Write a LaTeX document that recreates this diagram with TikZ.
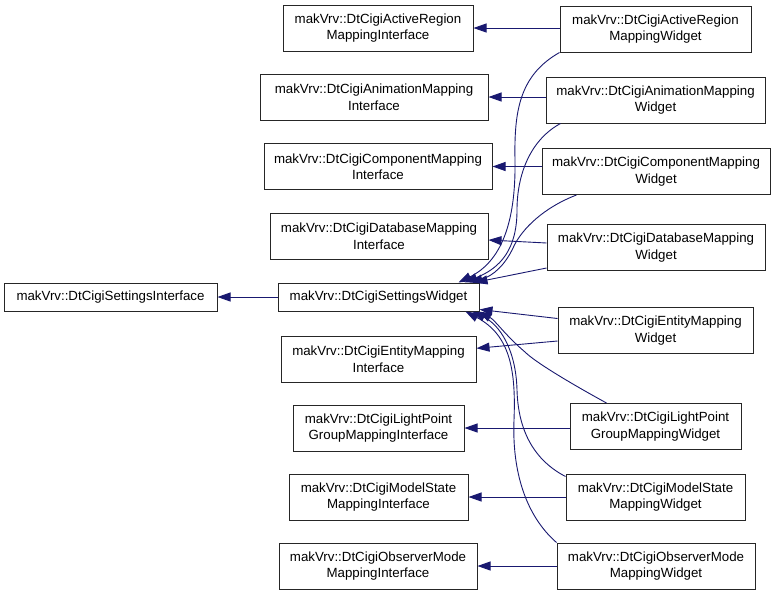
\documentclass[tikz,border=0pt]{standalone}
\usepackage{fontspec}
\setmainfont{Liberation Sans}
\usetikzlibrary{arrows.meta}
\definecolor{edgeblue}{HTML}{191970}
\tikzset{
  cls/.style={draw=black!85, line width=1pt, fill=white, align=center, inner sep=0pt,
    font=\fontsize{13.3}{16.5}\selectfont, text=black},
  edge/.style={draw=edgeblue, line width=0.9pt, -{Triangle[length=13pt,width=9pt]}},
}
\begin{document}
\begin{tikzpicture}[x=1pt,y=-1pt]
\fill[white] (0,0) rectangle (776,595);
\useasboundingbox (0,0) rectangle (776,595);
% left
\node[cls, minimum width=213pt, minimum height=28pt] (SI) at (110.5,297) {makVrv::DtCigiSettingsInterface};
\node[cls, minimum width=201pt, minimum height=28pt] (SW) at (378.5,297) {makVrv::DtCigiSettingsWidget};
% interfaces
\node[cls, minimum width=190pt, minimum height=46pt] (I1) at (378,28) {makVrv::DtCigiActiveRegion\\MappingInterface};
\node[cls, minimum width=228pt, minimum height=46pt] (I2) at (374,97) {makVrv::DtCigiAnimationMapping\\Interface};
\node[cls, minimum width=228pt, minimum height=46pt] (I3) at (378,166.5) {makVrv::DtCigiComponentMapping\\Interface};
\node[cls, minimum width=218pt, minimum height=46pt] (I4) at (379,236) {makVrv::DtCigiDatabaseMapping\\Interface};
\node[cls, minimum width=195pt, minimum height=46pt] (I5) at (378.5,359) {makVrv::DtCigiEntityMapping\\Interface};
\node[cls, minimum width=171pt, minimum height=46pt] (I6) at (378.5,428) {makVrv::DtCigiLightPoint\\GroupMappingInterface};
\node[cls, minimum width=179pt, minimum height=46pt] (I7) at (378.5,497) {makVrv::DtCigiModelState\\MappingInterface};
\node[cls, minimum width=198pt, minimum height=46pt] (I8) at (378,566) {makVrv::DtCigiObserverMode\\MappingInterface};
% widgets
\node[cls, minimum width=191pt, minimum height=46pt] (W1) at (655.5,29) {makVrv::DtCigiActiveRegion\\MappingWidget};
\node[cls, minimum width=219pt, minimum height=46pt] (W2) at (655.5,100) {makVrv::DtCigiAnimationMapping\\Widget};
\node[cls, minimum width=228pt, minimum height=46pt] (W3) at (656,171.5) {makVrv::DtCigiComponentMapping\\Widget};
\node[cls, minimum width=218pt, minimum height=46pt] (W4) at (656,247.5) {makVrv::DtCigiDatabaseMapping\\Widget};
\node[cls, minimum width=195pt, minimum height=46pt] (W5) at (655.5,330.5) {makVrv::DtCigiEntityMapping\\Widget};
\node[cls, minimum width=171pt, minimum height=46pt] (W6) at (655.5,426.5) {makVrv::DtCigiLightPoint\\GroupMappingWidget};
\node[cls, minimum width=179pt, minimum height=46pt] (W7) at (655.5,497) {makVrv::DtCigiModelState\\MappingWidget};
\node[cls, minimum width=198pt, minimum height=46pt] (W8) at (656,566) {makVrv::DtCigiObserverMode\\MappingWidget};
% edges
\draw[edge] (SW.west) -- (SI.east);
\draw[edge] (I1.east -| W1.west) -- (I1.east);
\draw[edge] (I2.east -| W2.west) -- (I2.east);
\draw[edge] (I3.east -| W3.west) -- (I3.east);
\draw[edge] ([yshift=4.5pt]W4.west) -- ([yshift=-4pt]I4.east);
\draw[edge] ([yshift=-10.5pt]W5.west) -- ([yshift=10.7pt]I5.east);
\draw[edge] (I6.east -| W6.west) -- (I6.east);
\draw[edge] (I7.east -| W7.west) -- (I7.east);
\draw[edge] (I8.east -| W8.west) -- (I8.east);
% to settings widget (top)
\draw[edge] (W1.south west) .. controls (520,75) and (514,110) .. (515,160)
  .. controls (516,225) and (500,262) .. ([xshift=-21pt]SW.north east);
\draw[edge] ([xshift=15pt]W2.south west) .. controls (530,140) and (517,175) .. (517,210)
  .. controls (517,250) and (500,268) .. ([xshift=-15pt]SW.north east);
\draw[edge] ([xshift=35pt]W3.south west) .. controls (545,207) and (522,228) .. (513,248)
  .. controls (505,265) and (493,276) .. ([xshift=-10pt]SW.north east);
\draw[edge] ([yshift=3pt]W4.south west) -- ([xshift=-5pt]SW.north east);
% to settings widget (bottom)
\draw[edge] ([yshift=12pt]W5.west) -- ([yshift=2pt]SW.south east);
\draw[edge] ([xshift=37pt]W6.north west) .. controls (570,383) and (535,362) .. (525,352)
  .. controls (505,335) and (495,320) .. ([xshift=-1pt]SW.south east);
\draw[edge] ([yshift=-3pt]W7.north west) .. controls (530,458) and (518,425) .. (517,390)
  .. controls (516,350) and (500,325) .. ([xshift=-7pt]SW.south east);
\draw[edge] (W8.north west) .. controls (525,515) and (512,470) .. (514,420)
  .. controls (516,370) and (510,335) .. ([xshift=-14pt]SW.south east);
\end{tikzpicture}
\end{document}
